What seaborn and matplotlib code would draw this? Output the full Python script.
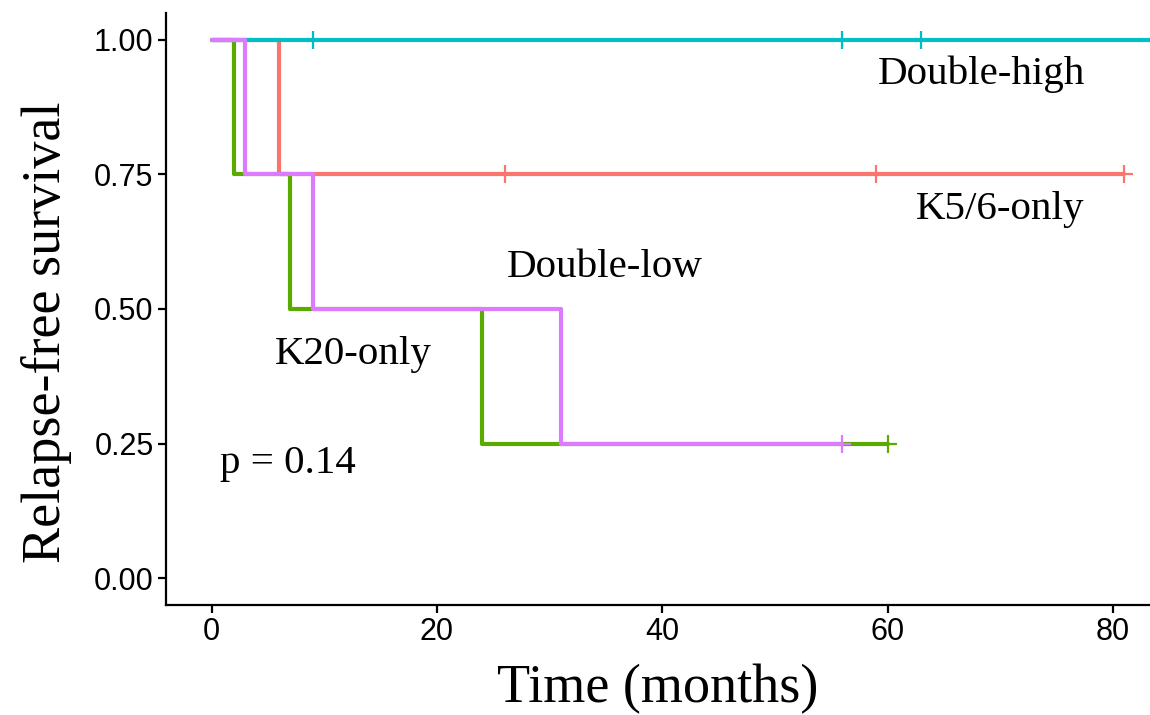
import numpy as np
import pandas as pd
import matplotlib
matplotlib.use("Agg")
import matplotlib.pyplot as plt
import seaborn as sns

# Follow-up time (months) and relapse status (1 = relapse, 0 = censored) per group
groups = ["K5/6-only", "K20-only", "Double-high", "Double-low"]
k56_time = [6, 26, 59, 81]
k56_event = [1, 0, 0, 0]
k20_time = [2, 7, 24, 60]
k20_event = [1, 1, 1, 0]
dhigh_time = [9, 56, 63, 90]
dhigh_event = [0, 0, 0, 0]
dlow_time = [3, 9, 31, 56]
dlow_event = [1, 1, 1, 0]

x_ticks = [0, 20, 40, 60, 80]
y_ticks = [0.00, 0.25, 0.50, 0.75, 1.00]
p_label = "p = 0.14"

palette = {
    "K5/6-only": "#F8766D",
    "K20-only": "#5AAA00",
    "Double-high": "#00BFC4",
    "Double-low": "#DD7BFF",
}

label_pos = {
    "Double-high": (68.3, 0.937),
    "K5/6-only": (70.0, 0.685),
    "Double-low": (34.9, 0.577),
    "K20-only": (12.6, 0.415),
}


def kaplan_meier(times, events):
    order = np.argsort(times, kind="stable")
    t = np.asarray(times, float)[order]
    e = np.asarray(events, int)[order]
    surv = 1.0
    step_t, step_s = [0.0], [1.0]
    cens_t, cens_s = [], []
    at_risk = len(t)
    for ti in np.unique(t):
        mask = t == ti
        d = e[mask].sum()
        c = mask.sum() - d
        if d > 0:
            surv *= 1 - d / at_risk
        step_t.append(ti)
        step_s.append(surv)
        if c > 0:
            cens_t.append(ti)
            cens_s.append(surv)
        at_risk -= mask.sum()
    return step_t, step_s, cens_t, cens_s


data = {
    "K5/6-only": (k56_time, k56_event),
    "K20-only": (k20_time, k20_event),
    "Double-high": (dhigh_time, dhigh_event),
    "Double-low": (dlow_time, dlow_event),
}

curve_rows, cens_rows = [], []
for g in groups:
    st, ss, ct, cs = kaplan_meier(*data[g])
    curve_rows += [{"group": g, "time": a, "surv": b} for a, b in zip(st, ss)]
    cens_rows += [{"group": g, "time": a, "surv": b} for a, b in zip(ct, cs)]
curves = pd.DataFrame(curve_rows)
censor = pd.DataFrame(cens_rows)

sns.set_style("ticks")
plt.rcParams["font.family"] = ["Liberation Sans", "DejaVu Sans"]
serif = ["Liberation Serif", "DejaVu Serif"]

fig = plt.figure(figsize=(11.5, 7.15), dpi=100)
ax = fig.add_axes([166 / 1150, 1 - 605 / 715, 1 - 166 / 1150, (605 - 13) / 715])

for g in groups:
    sub = curves[curves["group"] == g]
    sns.lineplot(data=sub, x="time", y="surv", color=palette[g],
                 drawstyle="steps-post", estimator=None, sort=True,
                 linewidth=3.0, ax=ax, legend=False)
    csub = censor[censor["group"] == g]
    if len(csub):
        sns.scatterplot(data=csub, x="time", y="surv", color=palette[g],
                        marker="+", s=170, linewidth=1.6, ax=ax, legend=False,
                        zorder=3)

for g, (lx, ly) in label_pos.items():
    ax.text(lx, ly, g, ha="center", va="center", fontsize=29.5,
            family=serif, color="black")
ax.text(6.8, 0.213, p_label, ha="center", va="center", fontsize=29.5,
        family=serif, color="black")

ax.set_xlim(-4.05, 83.3)
ax.set_ylim(-0.05, 1.05)
ax.set_xticks(x_ticks)
ax.set_yticks(y_ticks)
ax.set_yticklabels([f"{v:.2f}" for v in y_ticks])
ax.tick_params(axis="both", length=6, width=1.6, color="black",
               labelsize=22, labelcolor="black", pad=3)
for side in ["left", "bottom"]:
    ax.spines[side].set_linewidth(1.6)
    ax.spines[side].set_color("black")
sns.despine(ax=ax)

ax.set_xlabel("Time (months)", fontsize=39, family=serif, color="black",
              labelpad=12)
ax.set_ylabel("Relapse-free survival", fontsize=39, family=serif,
              color="black")
ax.yaxis.set_label_coords(-0.0955, 0.461)

fig.savefig("out.png", dpi=100)
